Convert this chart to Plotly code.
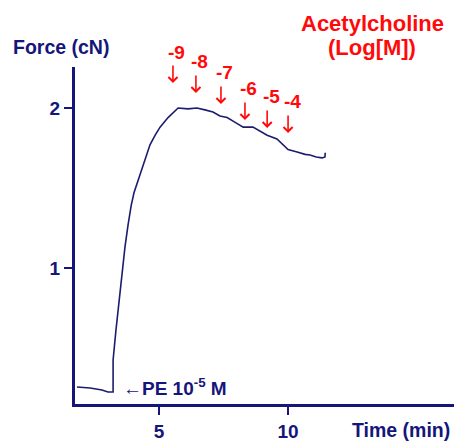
import plotly.graph_objects as go

# Force trace (time in min, force in cN)
time_min = [1.82, 2.33, 2.79, 3.02, 3.22, 3.22, 3.33, 3.45, 3.57, 3.68, 3.80, 3.92,
            4.03, 4.15, 4.38, 4.65, 4.85, 5.04, 5.35, 5.74, 6.12, 6.47, 6.78, 7.09,
            7.36, 7.64, 7.95, 8.26, 8.64, 8.92, 9.19, 9.57, 9.81, 10.0, 10.35, 10.66,
            10.85, 11.09, 11.32, 11.43, 11.44]
force_cn = [0.256, 0.25, 0.238, 0.225, 0.225, 0.425, 0.61, 0.80, 0.99, 1.13, 1.27, 1.39,
            1.47, 1.53, 1.64, 1.77, 1.83, 1.88, 1.94, 2.0, 1.994, 2.0, 1.988, 1.975,
            1.95, 1.94, 1.91, 1.88, 1.88, 1.856, 1.83, 1.806, 1.77, 1.74, 1.725, 1.71,
            1.706, 1.694, 1.688, 1.694, 1.72]

# Acetylcholine additions (Log[M]) : time of addition and force at arrow tip
ach_labels = ["-9", "-8", "-7", "-6", "-5", "-4"]
ach_time = [5.54, 6.43, 7.40, 8.33, 9.19, 10.0]
ach_tip_force = [2.156, 2.094, 2.025, 1.925, 1.875, 1.844]

x_ticks = [5, 10]
y_ticks = [1, 2]

NAVY = "#15157a"
RED = "#ff0a0a"
FONT = "Liberation Sans, Arial, sans-serif"

fig = go.Figure()
fig.add_trace(go.Scatter(x=time_min, y=force_cn, mode="lines",
                         line=dict(color="#1c1c6e", width=1.6),
                         hoverinfo="skip", showlegend=False))

annotations = []
for lab, t, f in zip(ach_labels, ach_time, ach_tip_force):
    annotations.append(dict(x=t, y=f, xref="x", yref="y", text="", showarrow=True,
                            ax=0, ay=-19, arrowhead=4, arrowsize=1.1, arrowwidth=1.6,
                            arrowcolor=RED))
    annotations.append(dict(x=t, y=f, xref="x", yref="y", text="<b>%s</b>" % lab,
                            showarrow=False, xshift=4, yshift=31,
                            xanchor="center", yanchor="middle",
                            font=dict(family=FONT, size=19, color=RED)))

annotations.append(dict(x=3.53, y=0.256, xref="x", yref="y", xanchor="left",
                        yanchor="middle",
                        text="<b>←PE 10<sup>-5</sup> M</b>", showarrow=False,
                        font=dict(family=FONT, size=19, color=NAVY)))
annotations.append(dict(x=0.784, y=1.129, xref="paper", yref="paper",
                        xanchor="center", yanchor="middle",
                        text="<b>Acetylcholine</b>", showarrow=False,
                        font=dict(family=FONT, size=22, color=RED)))
annotations.append(dict(x=0.784, y=1.058, xref="paper", yref="paper",
                        xanchor="center", yanchor="middle",
                        text="<b>(Log[M])</b>", showarrow=False,
                        font=dict(family=FONT, size=22, color=RED)))
annotations.append(dict(x=-0.168, y=1.058, xref="paper", yref="paper",
                        xanchor="left", yanchor="middle",
                        text="<b>Force (cN)</b>", showarrow=False,
                        font=dict(family=FONT, size=19.5, color=NAVY)))
annotations.append(dict(x=0.995, y=-0.077, xref="paper", yref="paper",
                        xanchor="right", yanchor="middle",
                        text="<b>Time (min)</b>", showarrow=False,
                        font=dict(family=FONT, size=19.5, color=NAVY)))

fig.update_layout(
    width=454, height=441,
    margin=dict(l=75, r=0, t=67, b=37),
    plot_bgcolor="white", paper_bgcolor="white",
    annotations=annotations,
    xaxis=dict(range=[1.744, 16.43], tickvals=x_ticks, ticktext=["<b>5</b>", "<b>10</b>"],
               showline=True, linecolor=NAVY, linewidth=3, ticks="outside", ticklen=8,
               tickwidth=2, tickcolor=NAVY, showgrid=False, zeroline=False,
               tickfont=dict(family=FONT, size=19, color=NAVY)),
    yaxis=dict(range=[0.15, 2.256], tickvals=y_ticks, ticktext=["<b>1</b>", "<b>2</b>"],
               showline=True, linecolor=NAVY, linewidth=3, ticks="outside", ticklen=8,
               tickwidth=2, tickcolor=NAVY, showgrid=False, zeroline=False,
               tickfont=dict(family=FONT, size=19, color=NAVY)),
)

fig.write_html("out.html", config={"displayModeBar": False},
               post_script="document.body.style.margin='0';")
